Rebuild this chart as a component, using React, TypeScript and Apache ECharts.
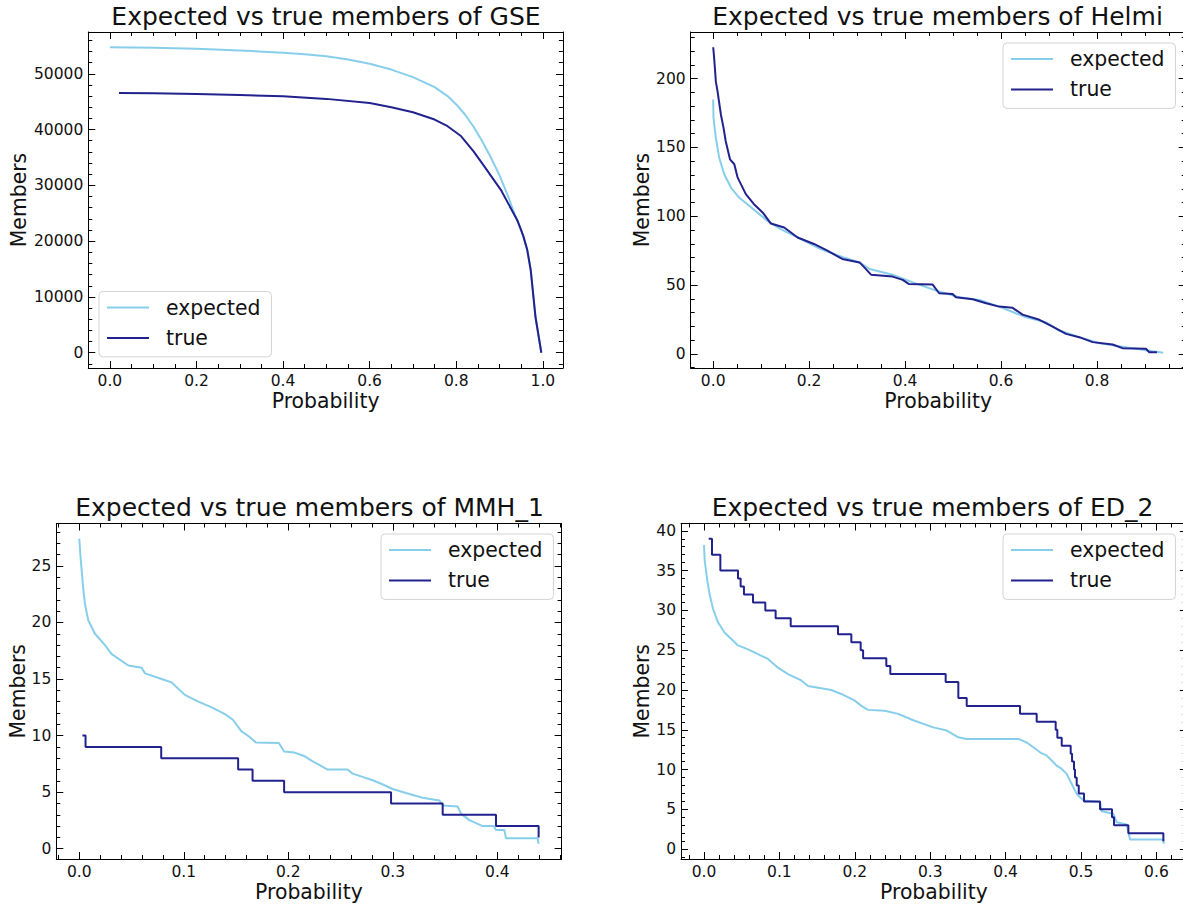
import React, { useEffect, useRef } from "react";
import * as echarts from "echarts";

// ---------- data ----------
const gseExpX = [0, 0.1, 0.2, 0.3, 0.4, 0.45, 0.5, 0.55, 0.6, 0.65, 0.7, 0.75, 0.78, 0.8, 0.82, 0.84, 0.86, 0.88, 0.9, 0.92, 0.935, 0.95, 0.964, 0.972, 0.983, 0.9965];
const gseExpY = [54750, 54680, 54480, 54180, 53760, 53480, 53130, 52560, 51800, 50750, 49400, 47600, 46000, 44500, 42700, 40500, 37900, 35000, 31800, 28000, 24800, 22000, 18500, 14850, 6450, 0];
const gseTrueX = [0.021, 0.1, 0.2, 0.3, 0.4, 0.5, 0.6, 0.65, 0.7, 0.75, 0.78, 0.81, 0.84, 0.864, 0.903, 0.941, 0.955, 0.964, 0.972, 0.983, 0.9965];
const gseTrueY = [46550, 46500, 46380, 46200, 45950, 45500, 44750, 44000, 43100, 41800, 40600, 38900, 36100, 33500, 29200, 23750, 20900, 18400, 14800, 6400, 0];

const helmiExpX = [0, 0.0006, 0.0055, 0.0125, 0.023, 0.037, 0.054, 0.075, 0.096, 0.113, 0.141, 0.19, 0.224, 0.272, 0.305, 0.326, 0.374, 0.416, 0.4646, 0.513, 0.555, 0.596, 0.652, 0.694, 0.7215, 0.763, 0.805, 0.86, 0.916, 0.938];
const helmiExpY = [184.9, 171.6, 157.1, 142.6, 130.6, 120.9, 113.6, 107.6, 101.6, 96.7, 90.7, 82.2, 76.2, 70.1, 66.5, 61.7, 57.6, 52.0, 46.0, 41.2, 39.3, 34.4, 26.7, 23.0, 17.0, 12.2, 7.8, 4.9, 2.0, 0.9];
const helmiTrueX = [0.0, 0.002, 0.0055, 0.009, 0.016, 0.0215, 0.026, 0.035, 0.044, 0.051, 0.068, 0.085, 0.103, 0.12, 0.148, 0.176, 0.21, 0.238, 0.269, 0.305, 0.315, 0.329, 0.374, 0.395, 0.4075, 0.4575, 0.471, 0.499, 0.506, 0.541, 0.569, 0.596, 0.624, 0.645, 0.68, 0.7075, 0.7354, 0.763, 0.791, 0.8325, 0.853, 0.902, 0.909, 0.925];
const helmiTrueY = [222.8, 215, 198, 191, 174, 164.4, 154.7, 141.4, 137.8, 128.1, 116.1, 108.8, 102.8, 94.8, 91.9, 84.6, 79.9, 75, 69, 66.5, 62.9, 57.6, 56.2, 53.8, 50.9, 50.4, 44.1, 43.6, 41.2, 39.7, 36.8, 34.4, 33.5, 28.6, 24.8, 19.9, 14.6, 12.2, 8.6, 6.9, 4.2, 3.8, 1.3, 1.3];

const mmhExpX = [0, 0.0012, 0.0023, 0.0038, 0.0055, 0.0086, 0.015, 0.0246, 0.031, 0.047, 0.0597, 0.0629, 0.0788, 0.0884, 0.101, 0.114, 0.1267, 0.1394, 0.147, 0.155, 0.1627, 0.169, 0.191, 0.196, 0.206, 0.215, 0.223, 0.2376, 0.2567, 0.2616, 0.2807, 0.29, 0.2998, 0.3158, 0.3285, 0.3445, 0.3477, 0.362, 0.3652, 0.3732, 0.386, 0.3966, 0.3987, 0.4067, 0.4083, 0.4386, 0.4395];
const mmhExpY = [27.4, 25.8, 24.6, 23.0, 21.6, 20.2, 19.0, 18.0, 17.2, 16.2, 16.0, 15.5, 15.0, 14.7, 13.6, 13.0, 12.5, 11.9, 11.4, 10.4, 9.9, 9.4, 9.35, 8.6, 8.5, 8.2, 7.75, 7.0, 7.0, 6.64, 6.05, 5.7, 5.28, 4.84, 4.5, 4.27, 3.83, 3.74, 3.1, 2.53, 2.0, 2.0, 1.66, 1.66, 0.93, 0.93, 0.44];
const mmhTrueX = [0.003, 0.006, 0.0784, 0.152, 0.1658, 0.196, 0.2983, 0.3477, 0.3987, 0.4395];
const mmhTrueY = [10, 9, 8, 7, 6, 5, 4, 3, 2, 1];

const edExpX = [0, 0.001, 0.0045, 0.0075, 0.012, 0.0186, 0.0274, 0.0363, 0.0451, 0.0584, 0.0716, 0.0849, 0.0981, 0.1114, 0.129, 0.138, 0.1689, 0.182, 0.2, 0.2087, 0.2175, 0.2396, 0.2573, 0.2776, 0.304, 0.322, 0.3373, 0.348, 0.417, 0.428, 0.4368, 0.4456, 0.4545, 0.4611, 0.4677, 0.4744, 0.481, 0.4854, 0.4898, 0.4943, 0.4987, 0.504, 0.5252, 0.5274, 0.5429, 0.5473, 0.5606, 0.565, 0.6092, 0.6098];
const edExpY = [38.2, 36.2, 33.7, 32.0, 30.2, 28.5, 27.2, 26.4, 25.6, 25.1, 24.5, 23.9, 22.8, 22.0, 21.2, 20.5, 20.0, 19.5, 18.66, 18.0, 17.5, 17.4, 17.0, 16.2, 15.3, 14.9, 14.05, 13.85, 13.85, 13.4, 12.8, 12.17, 11.75, 11.13, 10.5, 10.08, 9.46, 8.62, 7.78, 6.95, 6.52, 6.1, 5.9, 4.77, 4.44, 3.39, 3.1, 1.22, 1.22, 0.68];
const edTrueX = [0.0062, 0.0106, 0.0217, 0.0451, 0.0486, 0.053, 0.065, 0.0813, 0.095, 0.115, 0.1777, 0.1954, 0.2078, 0.211, 0.2418, 0.2471, 0.3205, 0.3373, 0.3484, 0.4191, 0.4412, 0.4664, 0.4686, 0.4744, 0.4863, 0.4881, 0.4907, 0.492, 0.4943, 0.497, 0.504, 0.5252, 0.5411, 0.5438, 0.5628, 0.6092];
const edTrueY = [39, 37, 35, 34, 33, 32, 31, 30, 29, 28, 27, 26, 25, 24, 23, 22, 21, 19, 18, 17, 16, 15, 14, 13, 12, 11, 10, 9, 8, 7, 6, 5, 4, 3, 2, 1];

// tick labels
const gseXTicks = [0, 0.2, 0.4, 0.6, 0.8, 1.0];
const gseYTicks = [0, 10000, 20000, 30000, 40000, 50000];
const helmiXTicks = [0, 0.2, 0.4, 0.6, 0.8];
const helmiYTicks = [0, 50, 100, 150, 200];
const mmhXTicks = [0, 0.1, 0.2, 0.3, 0.4];
const mmhYTicks = [0, 5, 10, 15, 20, 25];
const edXTicks = [0, 0.1, 0.2, 0.3, 0.4, 0.5, 0.6];
const edYTicks = [0, 5, 10, 15, 20, 25, 30, 35, 40];

const titles = [
  "Expected vs true members of GSE",
  "Expected vs true members of Helmi",
  "Expected vs true members of MMH_1",
  "Expected vs true members of ED_2",
];
const seriesNames = ["expected", "true"];

// ---------- styling / layout ----------
const FONT = "DejaVu Sans";
const EXP_COLOR = "#87ceeb";
const TRUE_COLOR = "#22228e";

type Panel = {
  title: string;
  expX: number[]; expY: number[];
  trueX: number[]; trueY: number[];
  trueStep: boolean;
  xTicks: number[]; yTicks: number[];
  xDiv: number; yDiv: number;
  grid: { left: number; top: number; width: number; height: number };
  yNameGap: number;
  legend: { left: number; top: number };
  titleX: number; titleTop: number;
};

const panels: Panel[] = [
  {
    title: titles[0], expX: gseExpX, expY: gseExpY, trueX: gseTrueX, trueY: gseTrueY, trueStep: false,
    xTicks: gseXTicks, yTicks: gseYTicks, xDiv: 4, yDiv: 5,
    grid: { left: 88.3, top: 32, width: 474.6, height: 336 }, yNameGap: 59,
    legend: { left: 99, top: 291.5 }, titleX: 326, titleTop: 4,
  },
  {
    title: titles[1], expX: helmiExpX, expY: helmiExpY, trueX: helmiTrueX, trueY: helmiTrueY, trueStep: false,
    xTicks: helmiXTicks, yTicks: helmiYTicks, xDiv: 4, yDiv: 5,
    grid: { left: 690.7, top: 32, width: 495, height: 336 }, yNameGap: 38,
    legend: { left: 1003, top: 43 }, titleX: 937.5, titleTop: 4,
  },
  {
    title: titles[2], expX: mmhExpX, expY: mmhExpY, trueX: mmhTrueX, trueY: mmhTrueY, trueStep: true,
    xTicks: mmhXTicks, yTicks: mmhYTicks, xDiv: 5, yDiv: 5,
    grid: { left: 56.3, top: 523.5, width: 505.3, height: 335.5 }, yNameGap: 27,
    legend: { left: 381, top: 534 }, titleX: 309.5, titleTop: 495,
  },
  {
    title: titles[3], expX: edExpX, expY: edExpY, trueX: edTrueX, trueY: edTrueY, trueStep: true,
    xTicks: edXTicks, yTicks: edYTicks, xDiv: 5, yDiv: 5,
    grid: { left: 681, top: 523.5, width: 505.8, height: 335.5 }, yNameGap: 28,
    legend: { left: 1003, top: 534 }, titleX: 932.5, titleTop: 495,
  },
];

function extentOf(a: number[], b: number[]): [number, number] {
  const lo = Math.min(...a, ...b);
  const hi = Math.max(...a, ...b);
  const m = (hi - lo) * 0.05;
  return [lo - m, hi + m];
}

function minorValues(ticks: number[], div: number, lo: number, hi: number): number[] {
  const step = (ticks[1] - ticks[0]) / div;
  const out: number[] = [];
  const start = Math.ceil(lo / step - 1e-9);
  for (let k = start; k * step <= hi + 1e-12; k++) {
    const v = +(k * step).toFixed(10);
    if (k % div !== 0 && v > lo && v < hi) out.push(v);
  }
  return out;
}

function zip(x: number[], y: number[]) {
  return x.map((v, i) => [v, y[i]]);
}

function buildOption() {
  const grids: any[] = [];
  const xAxes: any[] = [];
  const yAxes: any[] = [];
  const series: any[] = [];
  const titleOpts: any[] = [];
  const legends: any[] = [];

  panels.forEach((p, i) => {
    grids.push({ ...p.grid, containLabel: false, outerBoundsMode: "none", show: false });
    const [xmin, xmax] = extentOf(p.expX, p.trueX);
    const [ymin, ymax] = extentOf(p.expY, p.trueY);
    const xMinor = minorValues(p.xTicks, p.xDiv, xmin, xmax);
    const yMinor = minorValues(p.yTicks, p.yDiv, ymin, ymax);

    const common = {
      type: "value",
      gridIndex: i,
      splitLine: { show: false },
      axisPointer: { show: false },
      silent: true,
    };
    const line = { show: true, onZero: false, lineStyle: { color: "#000", width: 1 } };
    const noLine = { show: false, onZero: false };
    const majTick = (vals: number[]) => ({ show: true, inside: true, length: 7, customValues: vals, lineStyle: { color: "#000", width: 1 } });
    const minTick = (vals: number[]) => ({ show: true, inside: true, length: 4, customValues: vals, lineStyle: { color: "#000", width: 1 } });
    const labelStyle = { fontSize: 15.5, fontFamily: FONT, color: "#111" };

    // x axes
    xAxes.push({
      ...common, min: xmin, max: xmax, position: "bottom",
      axisLine: line, axisTick: majTick(p.xTicks),
      axisLabel: { show: true, customValues: p.xTicks, margin: 5, formatter: (v: number) => v.toFixed(1), ...labelStyle },
      name: "Probability", nameLocation: "middle", nameGap: 23,
      nameTextStyle: { fontSize: 20.4, fontFamily: FONT, color: "#111" },
    });
    xAxes.push({ ...common, min: xmin, max: xmax, position: "bottom", axisLine: noLine, axisTick: minTick(xMinor), axisLabel: { show: false } });
    xAxes.push({ ...common, min: xmin, max: xmax, position: "top", axisLine: line, axisTick: majTick(p.xTicks), axisLabel: { show: false } });
    xAxes.push({ ...common, min: xmin, max: xmax, position: "top", axisLine: noLine, axisTick: minTick(xMinor), axisLabel: { show: false } });

    // y axes
    yAxes.push({
      ...common, min: ymin, max: ymax, position: "left",
      axisLine: line, axisTick: majTick(p.yTicks),
      axisLabel: { show: true, customValues: p.yTicks, margin: 5, formatter: (v: number) => String(Math.round(v)), ...labelStyle },
      name: "Members", nameLocation: "middle", nameGap: p.yNameGap,
      nameTextStyle: { fontSize: 20.4, fontFamily: FONT, color: "#111" },
    });
    yAxes.push({ ...common, min: ymin, max: ymax, position: "left", axisLine: noLine, axisTick: minTick(yMinor), axisLabel: { show: false } });
    yAxes.push({ ...common, min: ymin, max: ymax, position: "right", axisLine: line, axisTick: majTick(p.yTicks), axisLabel: { show: false } });
    yAxes.push({ ...common, min: ymin, max: ymax, position: "right", axisLine: noLine, axisTick: minTick(yMinor), axisLabel: { show: false } });

    series.push({
      name: seriesNames[0], type: "line", xAxisIndex: i * 4, yAxisIndex: i * 4,
      data: zip(p.expX, p.expY), symbol: "none", showSymbol: false,
      lineStyle: { color: EXP_COLOR, width: 2 }, itemStyle: { color: EXP_COLOR },
      silent: true, z: 2,
    });
    series.push({
      name: seriesNames[1], type: "line", xAxisIndex: i * 4, yAxisIndex: i * 4,
      data: zip(p.trueX, p.trueY), symbol: "none", showSymbol: false,
      step: p.trueStep ? "end" : false,
      lineStyle: { color: TRUE_COLOR, width: 2 }, itemStyle: { color: TRUE_COLOR },
      silent: true, z: 3,
    });

    titleOpts.push({
      text: p.title, left: p.titleX, top: p.titleTop, textAlign: "center", padding: 0,
      textStyle: { fontSize: 25, fontWeight: "normal", fontFamily: FONT, color: "#111" },
    });

    legends.push({
      data: seriesNames,
      orient: "vertical",
      left: p.legend.left, top: p.legend.top,
      icon: "rect", itemWidth: 42, itemHeight: 2, itemGap: 10.4,
      padding: [6, 11, 9, 8],
      backgroundColor: "rgba(255,255,255,0.8)",
      borderColor: "#d4d4d4", borderWidth: 1, borderRadius: 4,
      selectedMode: false,
      textStyle: { fontSize: 20.4, fontFamily: FONT, color: "#111", padding: [0, 0, 0, 12] },
    });
  });

  return {
    animation: false,
    backgroundColor: "#ffffff",
    textStyle: { fontFamily: FONT },
    title: titleOpts,
    legend: legends,
    grid: grids,
    xAxis: xAxes,
    yAxis: yAxes,
    series,
  };
}

export default function App() {
  const ref = useRef<HTMLDivElement>(null);
  useEffect(() => {
    if (!ref.current) return;
    const chart = echarts.init(ref.current, undefined, { renderer: "svg" });
    chart.setOption(buildOption() as any);
    return () => chart.dispose();
  }, []);
  return (
    <div
      ref={ref}
      style={{ position: "fixed", left: 0, top: 0, width: 1183, height: 905, background: "#fff" }}
    />
  );
}
